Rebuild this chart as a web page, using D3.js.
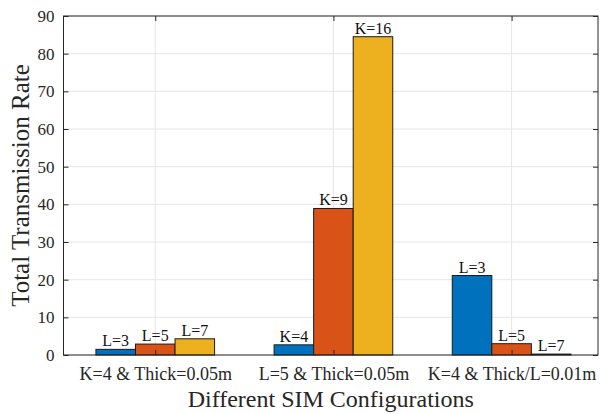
<!DOCTYPE html>
<html><head><meta charset="utf-8">
<script src="https://cdn.jsdelivr.net/npm/d3@7"></script>
<style>
body{margin:0;background:#fff;}
svg{display:block;font-family:"Liberation Serif","Times New Roman",serif;}
</style></head>
<body><svg id="c" width="600" height="414"></svg>
<script>
const categories = ["K=4 & Thick=0.05m", "L=5 & Thick=0.05m", "K=4 & Thick/L=0.01m"];
const series1 = [1.5, 2.7, 21.1];
const series2 = [2.9, 38.9, 3.0];
const series3 = [4.3, 84.5, 0.25];
const barLabels = [["L=3","L=5","L=7"],["K=4","K=9","K=16"],["L=3","L=5","L=7"]];
const yTicks = [0,10,20,30,40,50,60,70,80,90];
const colors = ["#0072BD","#D95319","#EDB120"];
const xTitle = "Different SIM Configurations";
const yTitle = "Total Transmission Rate";

const svg = d3.select("#c");
const L = 63.5, R = 598, T = 16, B = 355;
const x = d3.scaleLinear().domain([0.485, 3.485]).range([L, R]);
const y = d3.scaleLinear().domain([0, 90]).range([B, T]);
const series = [series1, series2, series3];
const bw = 0.222;

// grid
const g = svg.append("g");
g.selectAll(".gy").data(yTicks).join("line")
  .attr("x1", L).attr("x2", R).attr("y1", d=>y(d)).attr("y2", d=>y(d))
  .attr("stroke", "#e6e6e6").attr("stroke-width", 1);
g.selectAll(".gx").data([1,2,3]).join("line")
  .attr("x1", d=>x(d)).attr("x2", d=>x(d)).attr("y1", T).attr("y2", B)
  .attr("stroke", "#e6e6e6").attr("stroke-width", 1);

// bars
const bars = svg.append("g");
categories.forEach((c, i) => {
  series.forEach((s, j) => {
    const cx = i + 1 + (j - 1) * bw;
    bars.append("rect")
      .attr("x", x(cx - bw/2)).attr("width", x(cx + bw/2) - x(cx - bw/2))
      .attr("y", y(s[i])).attr("height", y(0) - y(s[i]))
      .attr("fill", colors[j]).attr("stroke", "#1a1a1a").attr("stroke-width", 1);
    bars.append("text")
      .attr("x", x(cx)).attr("y", y(s[i]) - 3)
      .attr("text-anchor", "middle").attr("font-size", 16).attr("fill", "#111")
      .text(barLabels[i][j]);
  });
});

// axes
const ax = svg.append("g");
const axisColor = "#262626";
ax.append("rect").attr("x", L).attr("y", T).attr("width", R-L).attr("height", B-T)
  .attr("fill","none").attr("stroke", axisColor).attr("stroke-width", 1);
const yAxisL = d3.axisLeft(y).tickValues(yTicks).tickSize(-5).tickPadding(9).tickFormat(d3.format("d"));
const gl = ax.append("g").attr("transform", `translate(${L},0)`).call(yAxisL);
gl.select(".domain").remove();
gl.selectAll("line").attr("stroke", axisColor);
gl.selectAll("text").attr("font-size", 17).attr("fill", axisColor).attr("font-family","Liberation Serif");
const yAxisR = d3.axisRight(y).tickValues(yTicks).tickSize(-5).tickFormat("");
const gr = ax.append("g").attr("transform", `translate(${R},0)`).call(yAxisR);
gr.select(".domain").remove();
gr.selectAll("line").attr("stroke", axisColor);
const xAxisB = d3.axisBottom(x).tickValues([1,2,3]).tickSize(-5).tickPadding(12).tickFormat((d,i)=>categories[i]);
const gb = ax.append("g").attr("transform", `translate(0,${B})`).call(xAxisB);
gb.select(".domain").remove();
gb.selectAll("line").attr("stroke", axisColor);
gb.selectAll("text").attr("font-size", 18).attr("fill", axisColor).attr("font-family","Liberation Serif");
const xAxisT = d3.axisTop(x).tickValues([1,2,3]).tickSize(-5).tickFormat("");
const gt = ax.append("g").attr("transform", `translate(0,${T})`).call(xAxisT);
gt.select(".domain").remove();
gt.selectAll("line").attr("stroke", axisColor);

// titles
svg.append("text").attr("x", (L+R)/2).attr("y", 407).attr("text-anchor","middle")
  .attr("font-size", 24).attr("fill", axisColor).text(xTitle);
svg.append("text").attr("transform", `translate(29,${(T+B)/2}) rotate(-90)`).attr("text-anchor","middle")
  .attr("font-size", 25).attr("fill", axisColor).text(yTitle);
</script></body></html>
